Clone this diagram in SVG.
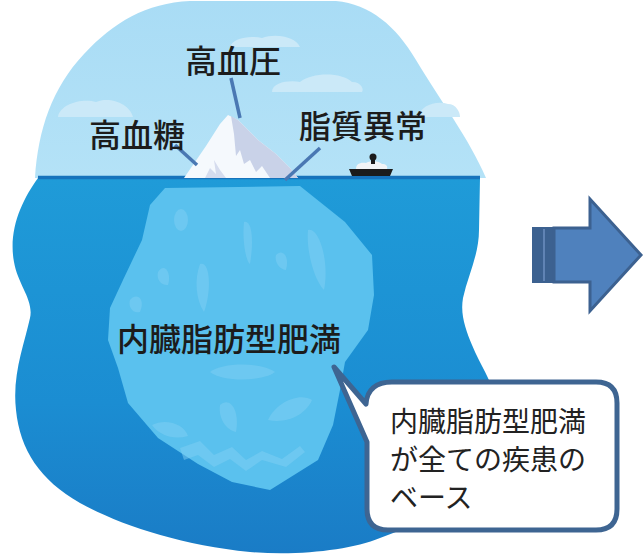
<svg xmlns="http://www.w3.org/2000/svg" width="644" height="556" viewBox="0 0 644 556">
  <defs>
    <linearGradient id="sea" x1="0" y1="0" x2="0" y2="1">
      <stop offset="0" stop-color="#1f9bd8"/>
      <stop offset="0.6" stop-color="#1b8dd2"/>
      <stop offset="1" stop-color="#1a7cc6"/>
    </linearGradient>
    <linearGradient id="sky" x1="0" y1="0" x2="0" y2="1">
      <stop offset="0" stop-color="#a9dcf5"/>
      <stop offset="1" stop-color="#b4e2f7"/>
    </linearGradient>
    <style>
      .label { font-family: "Noto Sans CJK JP", "Noto Sans", sans-serif; font-size: 32px; font-weight: 500; fill: #1c1c1c; }
      .note { font-family: "Noto Sans CJK JP", "Noto Sans", sans-serif; font-size: 28px; font-weight: 400; fill: #222222; }
      .leader { stroke: #4a78b3; stroke-width: 3.5; stroke-linecap: butt; fill: none; }
      .cloud { fill: #cbe9f8; }
      .patch { fill: #7fd0f3; opacity: 0.5; }
    </style>
  </defs>

  <rect width="644" height="556" fill="#ffffff"/>

  <!-- sky dome -->
  <path d="M35,178 C38,130 52,88 84,54 C114,22 146,3 190,1 L336,1 C370,4 396,26 416,60 C440,100 470,140 486,178 Z" fill="url(#sky)"/>
  <!-- clouds -->
  <path class="cloud" d="M230,47 C232,38 250,35 262,38 C276,33 296,37 300,47 Z"/>
  <path class="cloud" d="M272,92 C272,82 290,80 300,82 C312,72 342,72 352,82 C362,82 364,90 362,92 Z"/>
  <path class="cloud" d="M58,117 C60,104 82,98 96,102 C110,96 130,104 133,117 Z"/>
  <path class="cloud" d="M418,117 C420,106 436,100 448,104 C456,104 460,112 460,117 Z"/>

  <!-- sea -->
  <path d="M38,178 C22,200 8,230 14,262 C18,285 34,300 30,318 C24,345 12,375 16,410 C20,450 40,480 80,503 C120,525 180,545 250,552 C300,556 350,550 380,538 L480,500 L495,400 C492,380 480,365 472,345 C466,330 460,315 463,298 C468,275 479,255 479,230 L480,178 Z" fill="url(#sea)"/>
  <path d="M38,177.5 L480,177.5" stroke="#1673bc" stroke-width="3.5"/>

  <!-- submerged ice -->
  <path d="M165,188 L300,186 L345,222 L372,255 L374,295 L368,330 L345,362 L340,390 L333,425 L318,460 L270,490 L232,482 L198,464 L158,438 L128,403 L118,368 L108,340 L110,308 L123,280 L142,240 L150,205 Z" fill="#5ac1ee"/>
  <g>
    <ellipse class="patch" cx="181" cy="220" rx="7" ry="11"/>
    <path class="patch" d="M244,222 C252,220 254,240 250,264 C246,262 242,240 244,222 Z"/>
    <path class="patch" d="M276,255 C282,248 290,256 286,270 C280,270 274,262 276,255 Z"/>
    <path class="patch" d="M158,272 C164,262 172,272 168,285 C162,286 156,280 158,272 Z"/>
    <path class="patch" d="M200,264 C210,260 212,290 204,312 C196,300 194,280 200,264 Z"/>
    <path class="patch" d="M130,300 C136,292 146,298 140,312 C132,314 128,306 130,300 Z"/>
    <path class="patch" d="M308,230 C318,226 330,260 324,290 C314,280 306,250 308,230 Z"/>
    <path class="patch" d="M210,372 C222,362 262,362 275,372 C262,382 222,382 210,372 Z"/>
    <path class="patch" d="M220,405 C230,396 240,410 236,432 C226,430 218,418 220,405 Z"/>
    <path class="patch" d="M268,420 C276,402 300,392 312,400 C306,414 288,424 268,420 Z"/>
    <path class="patch" d="M152,425 C166,418 184,424 188,436 C174,440 160,436 152,425 Z"/>
    <path class="patch" d="M180,448 L200,441 L214,455 L232,447 L246,460 L262,451 L282,459 L300,446 L305,452 L286,467 L262,460 L246,471 L230,459 L214,467 L198,455 L184,460 Z" opacity="0.35"/>
  </g>

  <!-- visible ice tip -->
  <path d="M184,178 L206,146 L220,124 L228,115 L238,120 L258,140 L276,154 L290,168 L298,178 Z" fill="#f5f9fd"/>
  <path d="M231,116 L238,120 L258,140 L276,154 L290,168 L298,178 L270,178 L262,166 L256,172 L250,160 L244,164 L240,150 L236,156 L234,134 Z" fill="#c9d2e8"/>
  <path d="M205,178 L210,168 L216,174 L214,160 L220,170 L226,178 Z" fill="#d5dcee"/>

  <!-- ship -->
  <g id="ship">
    <path d="M349,169 L393,169 L390,176 L352,176 Z" fill="#1b1b1b"/>
    <path d="M356,169 C356,164 360,162 366,163 C370,160 380,161 382,164 C386,164 388,166 387,169 Z" fill="#f2f4f6"/>
    <rect x="371" y="158" width="4" height="6" fill="#1b1b1b"/>
    <circle cx="373" cy="157" r="3.5" fill="#1b1b1b"/>
  </g>

  <!-- leader lines -->
  <g id="connectors">
    <line class="leader" x1="231" y1="78" x2="240" y2="118"/>
    <line class="leader" x1="175" y1="145" x2="197" y2="165"/>
    <line class="leader" x1="320" y1="148" x2="285" y2="180"/>
  </g>

  <!-- labels -->
  <g id="label-blood-pressure">
    <text class="label" x="233" y="59" text-anchor="middle" dominant-baseline="central">高血圧</text>
  </g>
  <g id="label-blood-sugar">
    <text class="label" x="137" y="133" text-anchor="middle" dominant-baseline="central">高血糖</text>
  </g>
  <g id="label-lipid">
    <text class="label" x="363" y="124" text-anchor="middle" dominant-baseline="central">脂質異常</text>
  </g>
  <g id="label-visceral">
    <text class="label" x="229" y="337" text-anchor="middle" dominant-baseline="central">内臓脂肪型肥満</text>
  </g>

  <!-- speech bubble -->
  <g id="callout">
    <path d="M367,442 L334,367 L366,404 C367,390 376,382 392,382 L596,382 Q617,382 617,403 L617,509 Q617,530 596,530 L388,530 Q367,530 367,509 Z" fill="#ffffff" stroke="#3e6592" stroke-width="5" stroke-linejoin="round"/>
    <text class="note" x="390" y="420" dominant-baseline="central">内臓脂肪型肥満</text>
    <text class="note" x="390" y="458" dominant-baseline="central">が全ての疾患の</text>
    <text class="note" x="390" y="496" dominant-baseline="central">ベース</text>
  </g>

  <!-- block arrow -->
  <g id="arrow">
    <rect x="532" y="227" width="22" height="56" fill="#3c6190"/>
    <line x1="544" y1="229" x2="544" y2="281" stroke="#6d8fc0" stroke-width="1.5"/>
    <path d="M554,228 L590,228 L590,199 L641,255 L590,311 L590,282 L554,282 Z" fill="#4f81bd" stroke="#3c6190" stroke-width="3" stroke-linejoin="miter"/>
  </g>
</svg>
